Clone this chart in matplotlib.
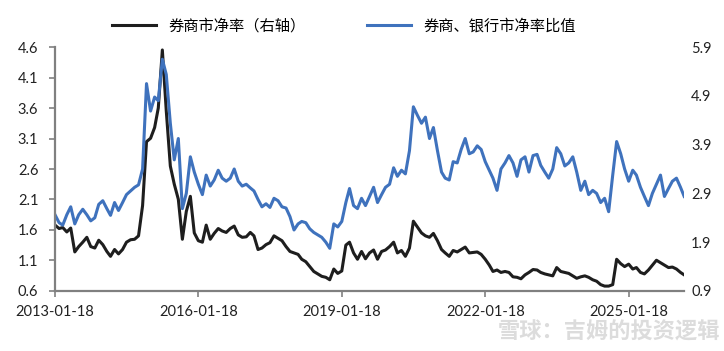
import matplotlib
matplotlib.use("Agg")
import matplotlib.pyplot as plt
import pandas as pd

plt.rcParams['font.family'] = ['Lato', 'Noto Sans CJK SC', 'DejaVu Sans']

# 券商、银行市净率比值（左轴），月度
ratio = [1.85, 1.72, 1.68, 1.85, 1.98, 1.70, 1.85, 1.94, 1.85, 1.75,
         1.80, 2.02, 2.08, 1.95, 1.84, 2.05, 1.92, 2.05, 2.18, 2.24,
         2.30, 2.34, 2.60, 4.00, 3.55, 3.78, 3.72, 4.40, 4.15, 3.35,
         2.75, 3.10, 1.95, 2.20, 2.80, 2.55, 2.35, 2.18, 2.50, 2.32,
         2.42, 2.58, 2.45, 2.40, 2.45, 2.60, 2.40, 2.32, 2.35, 2.29,
         2.24, 2.10, 1.98, 2.03, 1.97, 2.12, 2.08, 1.98, 1.96, 1.82,
         1.60, 1.70, 1.74, 1.72, 1.62, 1.56, 1.52, 1.48, 1.40, 1.30,
         1.70, 1.65, 1.74, 2.05, 2.28, 2.00, 1.95, 2.12, 2.00, 2.15,
         2.30, 2.05, 2.18, 2.30, 2.35, 2.62, 2.48, 2.58, 2.52, 2.90,
         3.62, 3.48, 3.35, 3.45, 3.10, 3.28, 2.90, 2.55, 2.45, 2.42,
         2.72, 2.70, 2.92, 3.10, 2.85, 2.88, 2.98, 2.92, 2.72, 2.58,
         2.45, 2.25, 2.60, 2.70, 2.82, 2.70, 2.48, 2.75, 2.80, 2.55,
         2.82, 2.84, 2.66, 2.55, 2.45, 2.60, 2.95, 2.85, 2.65, 2.70,
         2.80, 2.55, 2.25, 2.40, 2.18, 2.25, 2.20, 2.05, 2.12, 1.90,
         2.50, 3.05, 2.85, 2.60, 2.40, 2.58, 2.50, 2.30, 2.15, 2.00,
         2.20, 2.35, 2.50, 2.15, 2.28, 2.40, 2.45, 2.30, 2.15]

# 券商市净率（右轴），月度
broker_pb = [2.25, 2.18, 2.20, 2.11, 2.19, 1.70, 1.81, 1.90, 2.00, 1.81,
             1.78, 1.94, 1.85, 1.71, 1.61, 1.75, 1.66, 1.75, 1.90, 1.95,
             1.96, 2.03, 2.65, 3.96, 4.03, 4.25, 4.65, 5.84, 4.59, 3.46,
             3.09, 2.78, 1.96, 2.53, 2.84, 2.09, 1.93, 1.90, 2.25, 1.96,
             2.08, 2.18, 2.13, 2.10, 2.18, 2.23, 2.05, 2.00, 2.01, 2.10,
             2.03, 1.75, 1.78, 1.85, 1.89, 2.03, 1.98, 1.93, 1.81, 1.71,
             1.68, 1.65, 1.55, 1.50, 1.40, 1.30, 1.25, 1.20, 1.18, 1.13,
             1.35, 1.26, 1.31, 1.84, 1.90, 1.68, 1.55, 1.71, 1.56, 1.68,
             1.74, 1.55, 1.71, 1.74, 1.81, 1.90, 1.68, 1.73, 1.61, 1.78,
             2.33, 2.21, 2.09, 2.03, 2.00, 2.08, 1.93, 1.75, 1.68, 1.61,
             1.73, 1.70, 1.75, 1.80, 1.68, 1.69, 1.70, 1.65, 1.55, 1.43,
             1.30, 1.33, 1.28, 1.30, 1.28, 1.19, 1.18, 1.15, 1.23, 1.28,
             1.34, 1.33, 1.28, 1.25, 1.23, 1.21, 1.38, 1.30, 1.28, 1.26,
             1.21, 1.16, 1.19, 1.21, 1.18, 1.13, 1.10, 1.03, 1.00, 1.00,
             1.03, 1.55, 1.46, 1.40, 1.45, 1.35, 1.38, 1.28, 1.25, 1.33,
             1.43, 1.53, 1.48, 1.43, 1.38, 1.39, 1.35, 1.28, 1.23]

dates = pd.date_range('2013-01-18', periods=len(ratio), freq=pd.DateOffset(months=1))
tick_dates = pd.to_datetime(['2013-01-18', '2016-01-18', '2019-01-18', '2022-01-18', '2025-01-18'])
left_ticks = [0.6, 1.1, 1.6, 2.1, 2.6, 3.1, 3.6, 4.1, 4.6]
right_ticks = [0.9, 1.9, 2.9, 3.9, 4.9, 5.9]

fig = plt.figure(figsize=(7.24, 3.51), dpi=100)
ax1 = fig.add_axes([0.076, 0.171, 0.869, 0.695])
ax2 = ax1.twinx()

l2, = ax2.plot(dates, broker_pb, color='#1e1e1e', lw=2.2, label='券商市净率（右轴）')
l1, = ax1.plot(dates, ratio, color='#3f72bd', lw=2.2, label='券商、银行市净率比值')
ax1.set_zorder(ax2.get_zorder() + 1)
ax1.patch.set_visible(False)

ax1.set_xlim(dates[0], dates[-1])
ax1.set_ylim(0.6, 4.6)
ax2.set_ylim(0.9, 5.9)
ax1.set_yticks(left_ticks)
ax1.set_yticklabels([f'{t:.1f}' for t in left_ticks])
ax2.set_yticks(right_ticks)
ax2.set_yticklabels([f'{t:.1f}' for t in right_ticks])
ax1.set_xticks(tick_dates)
ax1.set_xticklabels([d.strftime('%Y-%m-%d') for d in tick_dates])

for ax in (ax1, ax2):
    for s in ('top', 'right'):
        ax.spines[s].set_visible(False)
ax2.spines['left'].set_visible(False)
ax2.spines['bottom'].set_visible(False)
for s in ('left', 'bottom'):
    ax1.spines[s].set_color('#808080')
    ax1.spines[s].set_linewidth(1.6)
ax1.tick_params(axis='both', direction='out', length=4, width=1.2, color='#808080',
                labelsize=10.5, labelcolor='#222222')
ax1.tick_params(axis='x', pad=6)
ax1.tick_params(axis='y', pad=8)
ax2.tick_params(axis='y', length=0, labelsize=10.5, labelcolor='#222222', pad=5)

fig.legend(handles=[l2, l1], loc='upper center', bbox_to_anchor=(0.475, 0.99), ncol=2,
           frameon=False, handlelength=2.9, columnspacing=4.0,
           prop={'family': ['Noto Sans CJK SC', 'DejaVu Sans'], 'size': 11})

fig.text(0.995, 0.02, '雪球：吉姆的投资逻辑', ha='right', va='bottom', fontsize=16,
         color='#dcdcdc', family=['Noto Sans CJK SC', 'DejaVu Sans'], fontweight='bold')

fig.savefig('out.png', dpi=100)
